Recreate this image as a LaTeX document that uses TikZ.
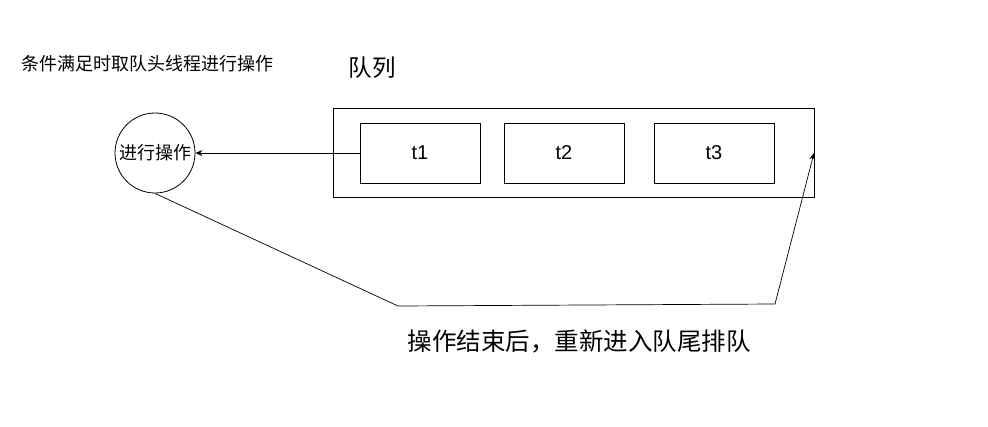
\documentclass[tikz,border=0pt]{standalone}
\usepackage{fontspec}
\setmainfont{Liberation Sans}
\newfontfamily\cjk{Noto Sans CJK SC}
\usetikzlibrary{arrows.meta}
\begin{document}
\begin{tikzpicture}[x=1pt,y=-1pt,
  box/.style={draw,line width=0.8pt,minimum width=120pt,minimum height=60pt,font=\fontsize{20}{24}\selectfont},
  conn/.style={line width=0.7pt},
  >={Stealth[length=7pt,width=6pt]}]
\useasboundingbox (0,0) rectangle (988,426);
\node[draw,line width=0.8pt,minimum width=481pt,minimum height=89pt] (queue) at (573.5,152.5) {};
\node[box] (t1) at (420,153) {t1};
\node[box] (t2) at (564,153) {t2};
\node[box] (t3) at (714,153) {t3};
\node[draw,circle,line width=0.8pt,minimum size=80pt,inner sep=0pt,font=\cjk\fontsize{18}{20}\selectfont] (op) at (155,153) {进行操作};
\node[font=\cjk\fontsize{23.5}{26}\selectfont] (title) at (372,68) {队列};
\node[font=\cjk\fontsize{18}{20}\selectfont] (cond) at (147,64) {条件满足时取队头线程进行操作};
\node[font=\cjk\fontsize{24.5}{28}\selectfont] (lbl) at (579,341) {操作结束后，重新进入队尾排队};
\coordinate (tail) at (814,153);
\coordinate (b1) at (398,306);
\coordinate (b2) at (775,304);
\draw[conn,->] (t1.west) -- (op.east);
\draw[conn,->] (op.south) -- (b1) -- (b2) -- (tail);
\end{tikzpicture}
\end{document}
